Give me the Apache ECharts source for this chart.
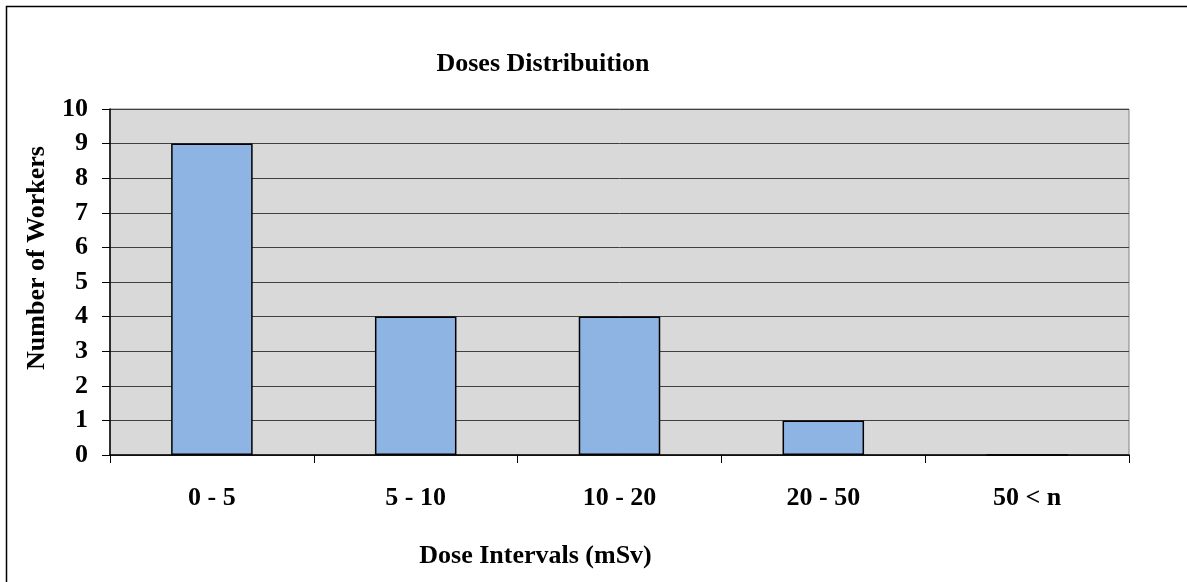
<!DOCTYPE html>
<html><head><meta charset="utf-8">
<script src="https://cdn.jsdelivr.net/npm/echarts@6/dist/echarts.min.js"></script>
<style>html,body{margin:0;padding:0;background:#fff}#c{width:1187px;height:582px}</style>
</head><body><div id="c"></div>
<script>
const categories = ['0 - 5', '5 - 10', '10 - 20', '20 - 50', '50 < n'];
const workers = [9, 4, 4, 1, 0];
const yTicks = [0, 10, 1];
const font = '"Liberation Serif", "Times New Roman", serif';
const chart = echarts.init(document.getElementById('c'));
chart.setOption({
  animation: false,
  backgroundColor: '#fff',
  title: {
    text: 'Doses Distribuition', left: 538, top: 46, textAlign: 'center',
    textStyle: {fontFamily: font, fontWeight: 'bold', fontSize: 26, color: '#000'}
  },
  graphic: [{type: 'rect', shape: {x: 6.5, y: 6.5, width: 1200, height: 600},
    style: {fill: 'none', stroke: '#000', lineWidth: 1.5}, silent: true, z: 100}],
  grid: {left: 110, right: 58, top: 109, bottom: 127, show: true, containLabel: false,
    outerBoundsMode: 'none',
    backgroundColor: '#D9D9D9', borderColor: '#808080', borderWidth: 1},
  xAxis: {
    type: 'category', data: categories, boundaryGap: true,
    name: 'Dose Intervals (mSv)', nameLocation: 'middle', nameGap: 88,
    nameTextStyle: {fontFamily: font, fontWeight: 'bold', fontSize: 26, color: '#000', padding: [0, 0, 0, -168]},
    axisLine: {lineStyle: {color: '#000', width: 1.5}},
    axisTick: {show: true, length: 8, lineStyle: {color: '#000'}},
    axisLabel: {fontFamily: font, fontWeight: 'bold', fontSize: 26, color: '#000', margin: 30},
    splitLine: {show: false}
  },
  yAxis: {
    type: 'value', min: yTicks[0], max: yTicks[1], interval: yTicks[2],
    name: 'Number of Workers', nameLocation: 'middle', nameGap: 60, nameRotate: 90,
    nameTextStyle: {fontFamily: font, fontWeight: 'bold', fontSize: 26, color: '#000', padding: [0, -48, 0, 0]},
    axisLine: {show: true, lineStyle: {color: '#000', width: 1.5}},
    axisTick: {show: true, length: 8, lineStyle: {color: '#000'}},
    axisLabel: {fontFamily: font, fontWeight: 'bold', fontSize: 26, color: '#000', margin: 22},
    splitLine: {lineStyle: {color: '#404040', width: 1}}
  },
  series: [{
    type: 'bar', data: workers, barWidth: '40%',
    itemStyle: {color: '#8EB4E3', borderColor: '#000', borderWidth: 1.5}
  }]
});
</script></body></html>
